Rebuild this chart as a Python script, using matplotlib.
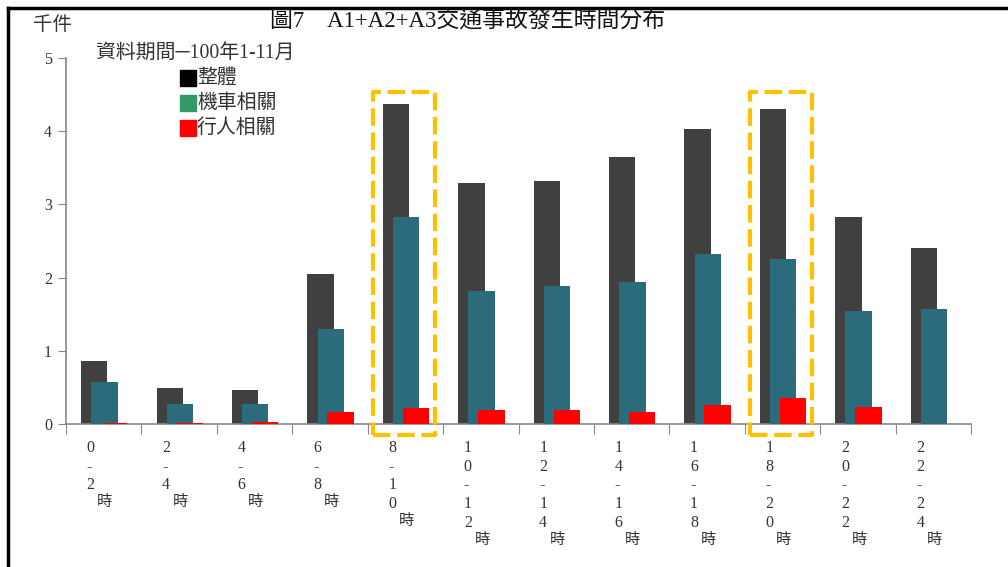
import numpy as np
import matplotlib.pyplot as plt
from matplotlib import transforms
from matplotlib.patches import Rectangle
from matplotlib.lines import Line2D

plt.rcParams['font.family'] = ['Liberation Serif', 'Noto Sans CJK TC']

# time slots (start-end hour) and values in thousands of accidents
slots = [(0, 2), (2, 4), (4, 6), (6, 8), (8, 10), (10, 12),
         (12, 14), (14, 16), (16, 18), (18, 20), (20, 22), (22, 24)]
total = [0.86, 0.49, 0.46, 2.05, 4.37, 3.29, 3.32, 3.65, 4.03, 4.30, 2.83, 2.40]
moto = [0.57, 0.27, 0.27, 1.30, 2.83, 1.82, 1.89, 1.94, 2.32, 2.25, 1.54, 1.57]
ped = [0.01, 0.01, 0.03, 0.17, 0.22, 0.19, 0.19, 0.16, 0.26, 0.36, 0.23, 0.0]
highlight = [4, 9]

W, H = 1008, 567
fig = plt.figure(figsize=(W / 100, H / 100), dpi=100)
ax = fig.add_axes([66 / W, 1 - 424 / H, (971 - 66) / W, (424 - 58) / H])

x = np.arange(len(slots)) + 0.5
bw = 0.35
ax.bar(x - 0.125, total, bw, color='#404040', zorder=2)
ax.bar(x + 0.01, moto, bw, color='#2b6b7b', zorder=3)
ax.bar(x + 0.14, ped, bw, color='#ff0000', zorder=4)

ax.set_xlim(0, len(slots))
ax.set_ylim(0, 5)
ax.set_yticks(range(6))
ax.set_yticklabels([str(v) for v in range(6)], fontsize=11.5, color='#333333')
ax.set_xticks(np.arange(len(slots) + 1))
ax.set_xticklabels([])
ax.tick_params(axis='y', length=6, color='#888888', pad=4)
ax.tick_params(axis='x', length=7, color='#888888', direction='out')
for s in ['top', 'right']:
    ax.spines[s].set_visible(False)
for s in ['left', 'bottom']:
    ax.spines[s].set_color('#888888')
    ax.spines[s].set_linewidth(1.2)

# stacked vertical category labels
tr = transforms.blended_transform_factory(ax.transData, fig.transFigure)
for i, (a, b) in enumerate(slots):
    chars = list(str(a)) + ['-'] + list(str(b))
    for k, ch in enumerate(chars):
        py = 448 + 18.7 * k
        ax.text(i + 0.5 - 0.225, 1 - py / H, ch, transform=tr, ha='left',
                va='center', fontsize=11.5, color='#333333')
    py = 448 + 18.7 * (len(chars) - 1) + 17
    ax.text(i + 0.5 - 0.085, 1 - py / H, '時', transform=tr, ha='left',
            va='center', fontsize=11, color='#333333')

# dashed highlight boxes
for i in highlight:
    r = Rectangle((i + 0.07, -0.15), 0.82, 4.685, fill=False,
                  edgecolor='#ffc000', linewidth=3,
                  linestyle=(0, (4.2, 1.6)), joinstyle='round',
                  clip_on=False, zorder=5)
    ax.add_patch(r)

# titles
fig.text(468 / W, 1 - 22 / H, '圖7　A1+A2+A3交通事故發生時間分布',
         ha='center', va='center', fontsize=16.5, color='#111111')
fig.text(33 / W, 1 - 25 / H, '千件', ha='left', va='center',
         fontsize=14, color='#333333')
fig.text(96 / W, 1 - 53 / H, '資料期間─100年1-11月', ha='left',
         va='center', fontsize=14.3, color='#333333')

# legend drawn as text box
leg_labels = ['整體', '機車相關', '行人相關']
leg_colors = ['#000000', '#339966', '#ff0000']
for k, (lab, col) in enumerate(zip(leg_labels, leg_colors)):
    cy = 78 + 25 * k
    fig.patches.append(Rectangle((180 / W, 1 - (cy + 8) / H), 16 / W, 16 / H,
                                 transform=fig.transFigure, color=col))
    fig.text(197 / W, 1 - cy / H, lab, ha='left', va='center',
             fontsize=14.3, color='#333333')

# outer frame (top and left edges)
fig.add_artist(Line2D([8 / W, 8 / W], [0, 1 - 7.5 / H], color='black',
                      linewidth=2.5, transform=fig.transFigure))
fig.add_artist(Line2D([8 / W, 1], [1 - 7.5 / H, 1 - 7.5 / H], color='black',
                      linewidth=2.5, transform=fig.transFigure))

fig.savefig('out.png', dpi=100)
